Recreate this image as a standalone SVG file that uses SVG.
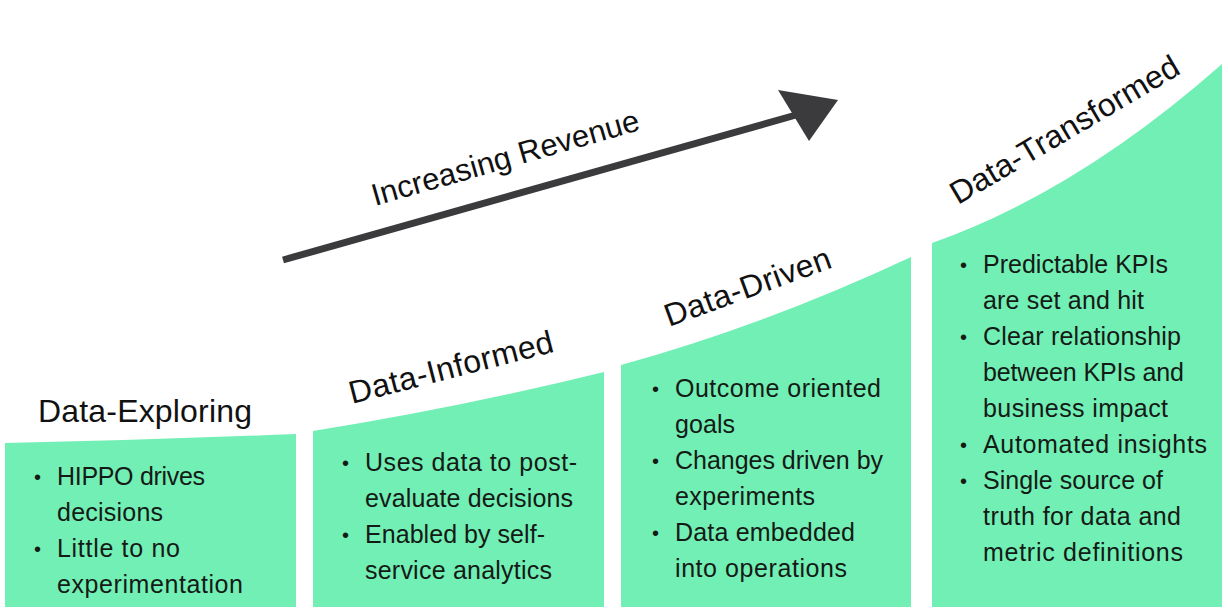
<svg xmlns="http://www.w3.org/2000/svg" width="1228" height="612" viewBox="0 0 1228 612">
<style>
.blk{fill:#72efb4}
.hd{font-family:"Liberation Sans",Arial,sans-serif;font-size:32px;fill:#111}
.bt{font-family:"Liberation Sans",Arial,sans-serif;font-size:25px;fill:#141a16}
.bl{font-family:"Liberation Sans",Arial,sans-serif;font-size:20px;fill:#141a16}
.lbl{font-family:"Liberation Sans",Arial,sans-serif;font-size:31px;fill:#111}
</style>
<rect width="1228" height="612" fill="#fff"/>
<g id="data-exploring">
<path class="blk" d="M5,443 Q150,440 296,434 L296,607 L5,607 Z"/>
<text class="hd" x="38" y="422" textLength="214">Data-Exploring</text>
<text class="bl" x="34" y="484">•</text>
<text class="bt" x="57" y="485" textLength="148">HIPPO drives</text>
<text class="bt" x="57" y="521" textLength="106">decisions</text>
<text class="bl" x="34" y="556">•</text>
<text class="bt" x="57" y="557" textLength="123">Little to no</text>
<text class="bt" x="57" y="593" textLength="186">experimentation</text>
</g>
<g id="data-informed">
<path class="blk" d="M313,431 Q458,408 604,372 L604,607 L313,607 Z"/>
<text class="hd" x="352" y="404" textLength="210" transform="rotate(-14.5 352 404)">Data-Informed</text>
<text class="bl" x="342" y="470">•</text>
<text class="bt" x="365" y="471" textLength="212">Uses data to post-</text>
<text class="bt" x="365" y="507" textLength="208">evaluate decisions</text>
<text class="bl" x="342" y="542">•</text>
<text class="bt" x="365" y="543" textLength="180">Enabled by self-</text>
<text class="bt" x="365" y="579" textLength="187">service analytics</text>
</g>
<g id="data-driven">
<path class="blk" d="M621,365 Q766,325 911,257 L911,607 L621,607 Z"/>
<text class="hd" x="669" y="327" textLength="175" transform="rotate(-20 669 327)">Data-Driven</text>
<text class="bl" x="652" y="396">•</text>
<text class="bt" x="675" y="397" textLength="206">Outcome oriented</text>
<text class="bt" x="675" y="433" textLength="60">goals</text>
<text class="bl" x="652" y="468">•</text>
<text class="bt" x="675" y="469" textLength="208">Changes driven by</text>
<text class="bt" x="675" y="505" textLength="140">experiments</text>
<text class="bl" x="652" y="540">•</text>
<text class="bt" x="675" y="541" textLength="180">Data embedded</text>
<text class="bt" x="675" y="577" textLength="172">into operations</text>
</g>
<g id="data-transformed">
<path class="blk" d="M932,243 Q1077,192 1222,64 L1222,607 L932,607 Z"/>
<text class="hd" x="958" y="205" textLength="260" transform="rotate(-30.5 958 205)">Data-Transformed</text>
<text class="bl" x="960" y="272">•</text>
<text class="bt" x="983" y="273" textLength="185">Predictable KPIs</text>
<text class="bt" x="983" y="309" textLength="161">are set and hit</text>
<text class="bl" x="960" y="344">•</text>
<text class="bt" x="983" y="345" textLength="198">Clear relationship</text>
<text class="bt" x="983" y="381" textLength="201">between KPIs and</text>
<text class="bt" x="983" y="417" textLength="185">business impact</text>
<text class="bl" x="960" y="452">•</text>
<text class="bt" x="983" y="453" textLength="224">Automated insights</text>
<text class="bl" x="960" y="488">•</text>
<text class="bt" x="983" y="489" textLength="180">Single source of</text>
<text class="bt" x="983" y="525" textLength="198">truth for data and</text>
<text class="bt" x="983" y="561" textLength="200">metric definitions</text>
</g>
<g id="connectors">
<line x1="283" y1="260" x2="796" y2="115" stroke="#3b3a3c" stroke-width="7"/>
<polygon points="778,90 838,100 809,141" fill="#3b3a3c"/>
<text class="lbl" x="375" y="206" textLength="277" transform="rotate(-16 375 206)">Increasing Revenue</text>
</g>
</svg>
